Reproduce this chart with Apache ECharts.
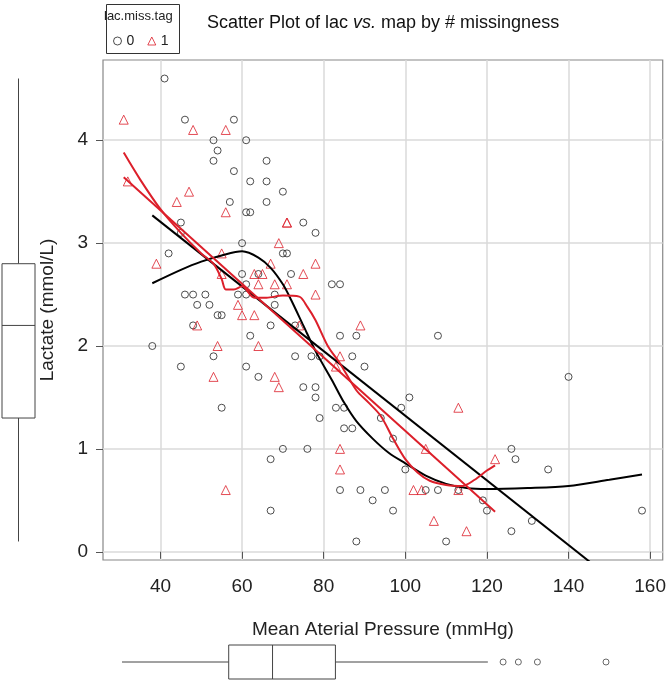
<!DOCTYPE html>
<html><head><meta charset="utf-8">
<script src="https://cdn.jsdelivr.net/npm/echarts@6/dist/echarts.min.js"></script>
<style>html,body{margin:0;padding:0;background:#fff}#c{width:669px;height:680px}</style>
</head><body><div id="c"></div>
<script>
// ---- data ----
const map0 = [41,46,58,53,61,54,53,66,58,62,66,70,57,66,61,62,45,75,45,78,60,42,70,71,60,64,72,61,82,84,46,48,51,59,61,68,49,52,68,54,55,48,67,73,62,84,88,108,38,53,73,77,79,87,45,61,90,64,140,75,78,78,101,55,83,85,99,79,94,85,87,97,70,76,126,67,127,100,135,84,89,95,105,108,113,92,119,67,97,120,158,131,126,88,110];
const lac0 = [4.6,4.2,4.2,4.0,4.0,3.9,3.8,3.8,3.7,3.6,3.6,3.5,3.4,3.4,3.3,3.3,3.2,3.2,3.1,3.1,3.0,2.9,2.9,2.9,2.7,2.7,2.7,2.6,2.6,2.6,2.5,2.5,2.5,2.5,2.5,2.5,2.4,2.4,2.4,2.3,2.3,2.2,2.2,2.2,2.1,2.1,2.1,2.1,2.0,1.9,1.9,1.9,1.9,1.9,1.8,1.8,1.8,1.7,1.7,1.6,1.6,1.5,1.5,1.4,1.4,1.4,1.4,1.3,1.3,1.2,1.2,1.1,1.0,1.0,1.0,0.9,0.9,0.8,0.8,0.6,0.6,0.6,0.6,0.6,0.6,0.5,0.5,0.4,0.4,0.4,0.4,0.3,0.2,0.1,0.1];
const map1 = [31,48,56,32,47,44,56,71,71,69,55,39,67,78,55,63,65,75,64,68,71,78,59,60,63,49,74,89,54,64,84,83,53,68,69,113,105,84,84,56,102,104,113,122,107,115];
const lac1 = [4.2,4.1,4.1,3.6,3.5,3.4,3.3,3.2,3.2,3.0,2.9,2.8,2.8,2.8,2.7,2.7,2.7,2.7,2.6,2.6,2.6,2.5,2.4,2.3,2.3,2.2,2.2,2.2,2.0,2.0,1.9,1.8,1.7,1.7,1.6,1.4,1.0,1.0,0.8,0.6,0.6,0.6,0.6,0.9,0.3,0.2];

const lin0X = [38, 158], lin0Y = [3.27, -0.5];
const lin1X = [31, 122], lin1Y = [3.64, 0.39];
const loess0X = [38,45,50,55,60,64,67,70,72,75,78,82,85,88,92,96,100,105,110,115,120,130,140,150,158];
const loess0Y = [2.61,2.74,2.82,2.88,2.92,2.86,2.76,2.6,2.45,2.2,1.95,1.67,1.45,1.27,1.1,0.96,0.86,0.74,0.66,0.62,0.61,0.62,0.64,0.7,0.75];
const loess1X = [31,35,40,45,50,53,55,56,58,60,63,66,70,74,76,78,81,84,88,91,94,97,100,103,106,110,114,117,120,122];
const loess1Y = [3.88,3.62,3.33,3.1,2.9,2.8,2.65,2.55,2.55,2.58,2.47,2.47,2.49,2.48,2.38,2.25,2.0,1.83,1.57,1.45,1.32,1.1,0.9,0.77,0.69,0.65,0.64,0.7,0.79,0.84];

const lacBox = [0.1, 1.3, 2.2, 2.8, 4.6];       // min, Q1, median, Q3, max
const mapBox = [31, 59, 70.5, 87, 127];
const mapOutliers = [131, 135, 140, 158];

const xTicks = [40, 60, 80, 100, 120, 140, 160];
const yTicks = [0, 1, 2, 3, 4];
const groupNames = ['0', '1'];

// ---- helpers ----
const zip = (a, b) => a.map((v, i) => [v, b[i]]);
const FONT = 'Liberation Sans, Arial, Helvetica, sans-serif';
const RED = '#dc1f2a';

function boxRenderer(vertical) {
  return function (params, api) {
    const s = [api.value(0), api.value(1), api.value(2), api.value(3), api.value(4)];
    const P = vertical ? (v, k) => api.coord([k, v]) : (v, k) => api.coord([v, k]);
    const st = {stroke: '#444', lineWidth: 1, fill: null};
    const line = (a, b) => ({type: 'line', shape: {x1: a[0], y1: a[1], x2: b[0], y2: b[1]}, style: st});
    const a = P(s[1], 0), b = P(s[3], 1);
    return {type: 'group', children: [
      line(P(s[0], 0.5), P(s[1], 0.5)),
      line(P(s[3], 0.5), P(s[4], 0.5)),
      {type: 'rect', shape: {x: Math.min(a[0], b[0]), y: Math.min(a[1], b[1]),
        width: Math.abs(b[0] - a[0]), height: Math.abs(b[1] - a[1])},
        style: {stroke: '#444', lineWidth: 1, fill: '#fff'}},
      line(P(s[2], 0), P(s[2], 1))
    ]};
  };
}

const chart = echarts.init(document.getElementById('c'), null, {renderer: 'canvas'});
chart.setOption({
  animation: false,
  textStyle: {fontFamily: FONT},
  title: {
    text: '{n|Scatter Plot of lac }{i|vs.}{n| map by # missingness}',
    left: 202, top: 9,
    textStyle: {fontWeight: 'normal', rich: {
      n: {fontSize: 18, fontFamily: FONT, color: '#111', fontWeight: 'normal'},
      i: {fontSize: 18, fontFamily: FONT, color: '#111', fontStyle: 'italic', fontWeight: 'normal'}
    }}
  },
  legend: {
    left: 113, top: 34, itemWidth: 8, itemHeight: 8, itemGap: 13, padding: 0,
    textStyle: {fontSize: 14, color: '#222', fontFamily: FONT},
    data: [
      {name: groupNames[0], icon: 'circle', itemStyle: {color: 'rgba(0,0,0,0)', borderColor: '#222', borderWidth: 1}},
      {name: groupNames[1], icon: 'triangle', itemStyle: {color: 'rgba(0,0,0,0)', borderColor: RED, borderWidth: 1}}
    ]
  },
  graphic: [
    {type: 'rect', left: 104, top: 2, shape: {width: 73, height: 49}, style: {fill: null, stroke: '#333', lineWidth: 1}},
    {type: 'text', left: 104, top: 10, style: {text: 'lac.miss.tag', width: 73, align: 'center', fontSize: 13, fontFamily: FONT, fill: '#222'}}
  ],
  grid: [
    {left: 103, top: 60, width: 563, height: 500, show: true, borderColor: '#888', borderWidth: 1.2, backgroundColor: 'rgba(0,0,0,0)'},
    {left: 2, top: 60, width: 33, height: 500},
    {left: 122, top: 645, width: 484, height: 34}
  ],
  xAxis: [
    {gridIndex: 0, type: 'value', min: 25.92, max: 163.08, position: 'bottom',
     axisLine: {show: false},
     axisTick: {show: true, length: 7, lineStyle: {color: '#555'}, customValues: xTicks},
     axisLabel: {customValues: xTicks, fontSize: 19, color: '#222', margin: 17, fontFamily: FONT},
     splitLine: {show: true, lineStyle: {color: '#dadada', width: 1.5}},
     name: 'Mean Aterial Pressure (mmHg)', nameLocation: 'middle', nameGap: 60,
     nameTextStyle: {fontSize: 19, color: '#222', fontFamily: FONT}},
    {gridIndex: 1, type: 'value', min: 0, max: 1, show: false},
    {gridIndex: 2, type: 'value', min: 31, max: 158, show: false}
  ],
  yAxis: [
    {gridIndex: 0, type: 'value', min: -0.08, max: 4.78,
     axisLine: {show: false},
     axisTick: {show: true, length: 7, lineStyle: {color: '#555'}, customValues: yTicks},
     axisLabel: {customValues: yTicks, fontSize: 19, color: '#222', margin: 15, fontFamily: FONT},
     splitLine: {show: true, lineStyle: {color: '#dadada', width: 1.5}},
     name: 'Lactate (mmol/L)', nameLocation: 'middle', nameGap: 46,
     nameTextStyle: {fontSize: 19, color: '#222', fontFamily: FONT}},
    {gridIndex: 1, type: 'value', min: -0.08, max: 4.78, show: false},
    {gridIndex: 2, type: 'value', min: 0, max: 1, show: false}
  ],
  series: [
    {name: groupNames[0], type: 'scatter', xAxisIndex: 0, yAxisIndex: 0, data: zip(map0, lac0),
     symbol: 'circle', symbolSize: 7,
     itemStyle: {color: 'rgba(0,0,0,0)', borderColor: '#222', borderWidth: 1}},
    {name: groupNames[1], type: 'scatter', xAxisIndex: 0, yAxisIndex: 0, data: zip(map1, lac1),
     symbol: 'triangle', symbolSize: 9,
     itemStyle: {color: 'rgba(0,0,0,0)', borderColor: RED, borderWidth: 1}},
    {type: 'line', data: zip(lin0X, lin0Y), showSymbol: false, clip: true, lineStyle: {color: '#000', width: 2}},
    {type: 'line', data: zip(loess0X, loess0Y), showSymbol: false, smooth: 0.3, clip: true, lineStyle: {color: '#000', width: 2}},
    {type: 'line', data: zip(lin1X, lin1Y), showSymbol: false, clip: true, lineStyle: {color: RED, width: 2}},
    {type: 'line', data: zip(loess1X, loess1Y), showSymbol: false, smooth: 0.3, clip: true, lineStyle: {color: RED, width: 2}},
    {type: 'custom', xAxisIndex: 1, yAxisIndex: 1, renderItem: boxRenderer(true), data: [lacBox], clip: false},
    {type: 'custom', xAxisIndex: 2, yAxisIndex: 2, renderItem: boxRenderer(false), data: [mapBox], clip: false},
    {type: 'scatter', xAxisIndex: 2, yAxisIndex: 2, data: mapOutliers.map(v => [v, 0.5]), symbol: 'circle', symbolSize: 6,
     itemStyle: {color: 'rgba(0,0,0,0)', borderColor: '#444', borderWidth: 1}}
  ]
});
</script></body></html>
